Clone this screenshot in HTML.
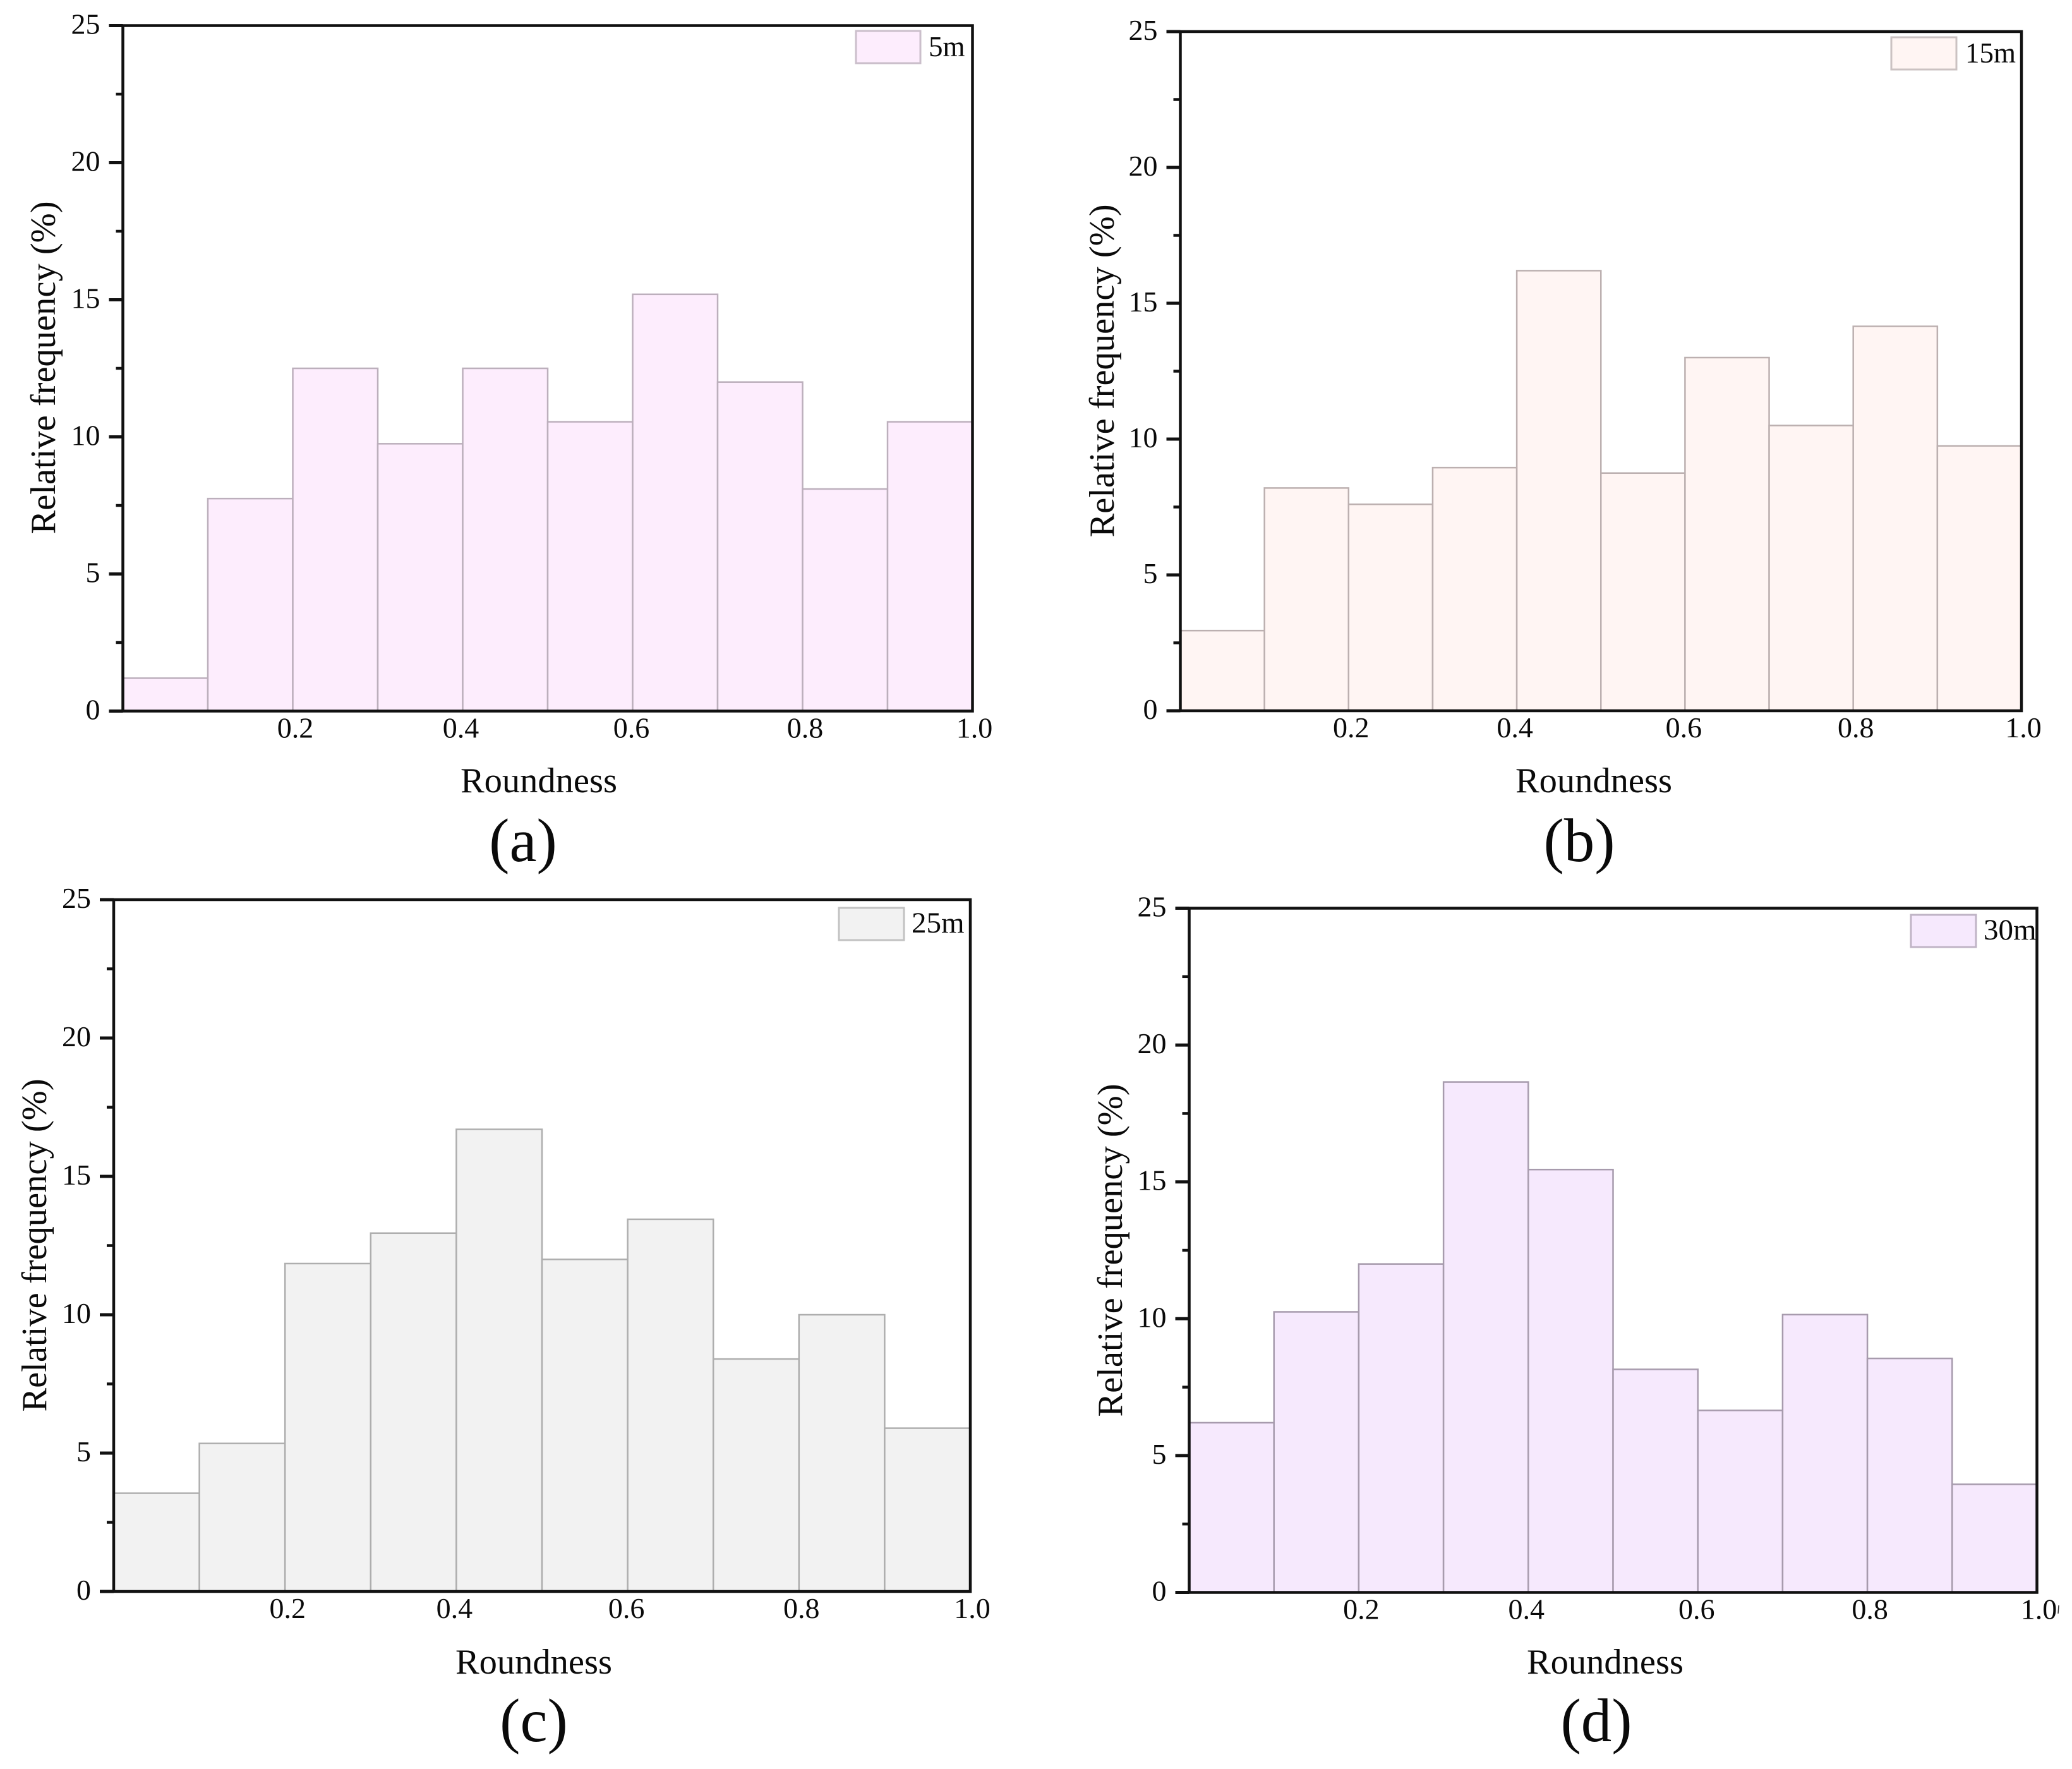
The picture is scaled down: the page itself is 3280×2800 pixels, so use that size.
<!DOCTYPE html>
<html lang="en">
<head>
<meta charset="utf-8">
<title>Roundness histograms</title>
<style>
  html, body { margin: 0; padding: 0; background: #fff; }
  svg { display: block; }
  text { font-family: "Liberation Serif", "Times New Roman", serif; fill: #0a0a0a; }
</style>
</head>
<body>
<svg id="figure" xmlns="http://www.w3.org/2000/svg" width="3280" height="2800" viewBox="0 0 3280 2800">
  <rect x="0" y="0" width="3280" height="2800" fill="#ffffff"/>
</svg>
<script>
// ---- chart data ----
const binEdges = [0, 0.1, 0.2, 0.3, 0.4, 0.5, 0.6, 0.7, 0.8, 0.9, 1.0];
const xTickValues = [0.2, 0.4, 0.6, 0.8, 1.0];
const xTickLabels = ["0.2", "0.4", "0.6", "0.8", "1.0"];
const yTickValues = [0, 5, 10, 15, 20, 25];
const yTickLabels = ["0", "5", "10", "15", "20", "25"];
const yMinorValues = [2.5, 7.5, 12.5, 17.5, 22.5];
const values5m  = [1.2, 7.75, 12.5, 9.75, 12.5, 10.55, 15.2, 12.0, 8.1, 10.55];
const values15m = [2.95, 8.2, 7.6, 8.95, 16.2, 8.75, 13.0, 10.5, 14.15, 9.75];
const values25m = [3.55, 5.35, 11.85, 12.95, 16.7, 12.0, 13.45, 8.4, 10.0, 5.9];
const values30m = [6.2, 10.25, 12.0, 18.65, 15.45, 8.15, 6.65, 10.15, 8.55, 3.95];
const seriesLabels = ["5m", "15m", "25m", "30m"];
const captionLabels = ["(a)", "(b)", "(c)", "(d)"];
const xTitle = "Roundness";
const yTitle = "Relative frequency (%)";

// ---- layout (pixels, separate from the data) ----
const labelShift = [4, -3, -2, 4, 3];
const panelLayouts = [
  { id: "a", left: 194.5, right: 1539.5, top: 40.5, bottom: 1125.5, fill: "#fdedfd", edge: "#bcafbc", swatchEdge: "#cbbfcb", swatch: [1355, 49, 102, 51], legendX: 1470, legendY: 89, legendSize: 45, yTitleX: 87, yTitleY: 582, xTitleX: 853, xTitleY: 1254, capX: 828, capY: 1363 },
  { id: "b", left: 1868.5, right: 3200, top: 50, bottom: 1125, fill: "#fff5f3", edge: "#bcb0b0", swatchEdge: "#cbc2c2", swatch: [2994, 59, 103, 51], legendX: 3111, legendY: 99, legendSize: 45, yTitleX: 1763, yTitleY: 587, xTitleX: 2523, xTitleY: 1254, capX: 2500, capY: 1363 },
  { id: "c", left: 180, right: 1536, top: 1424, bottom: 2519, fill: "#f2f2f2", edge: "#aeaeae", swatchEdge: "#c2c2c2", swatch: [1328, 1437, 103, 51], legendX: 1443, legendY: 1476, legendSize: 47, yTitleX: 73, yTitleY: 1971, xTitleX: 845, xTitleY: 2649, capX: 845, capY: 2756 },
  { id: "d", left: 1882.5, right: 3224.5, top: 1437.5, bottom: 2520.5, fill: "#f6e9fd", edge: "#a79bad", swatchEdge: "#c0b4c6", swatch: [3025, 1448, 103, 51], legendX: 3140, legendY: 1487, legendSize: 47, yTitleX: 1776, yTitleY: 1979, xTitleX: 2541, xTitleY: 2649, capX: 2527, capY: 2756 }
];
const seriesValues = [values5m, values15m, values25m, values30m];

const SVG_NS = "http://www.w3.org/2000/svg";
const figure = document.getElementById("figure");

function makeEl(parent, tag, attrs, text) {
  const el = document.createElementNS(SVG_NS, tag);
  Object.keys(attrs).forEach(function (k) { el.setAttribute(k, attrs[k]); });
  if (text !== undefined) el.textContent = text;
  parent.appendChild(el);
  return el;
}

function xScale(p, v) { return p.left + (v - 0) / (1 - 0) * (p.right - p.left); }
function yScale(p, v) { return p.bottom - (v - 0) / (25 - 0) * (p.bottom - p.top); }

panelLayouts.forEach(function (p, idx) {
  const group = makeEl(figure, "g", {});
  
  

  // bars
  seriesValues[idx].forEach(function (val, i) {
    const x0 = xScale(p, binEdges[i]);
    const x1 = xScale(p, binEdges[i + 1]);
    const y = yScale(p, val);
    const bar = makeEl(group, "rect", { x: x0, y: y, width: x1 - x0, height: p.bottom - y, fill: p.fill, stroke: p.edge, "stroke-width": 2.5 });
    
    
  });

  // frame
  const frame = makeEl(group, "rect", { x: p.left, y: p.top, width: p.right - p.left, height: p.bottom - p.top, fill: "none", stroke: "#111111", "stroke-width": 4.5 });
  
  

  // major y ticks and labels
  yTickValues.forEach(function (v, i) {
    const y = yScale(p, v);
    const tick = makeEl(group, "line", { x1: p.left - 22, x2: p.left, y1: y, y2: y, stroke: "#111111", "stroke-width": 5 });
    
    
    const label = makeEl(group, "text", { x: p.left - 36, y: y + 13, "text-anchor": "end", "font-size": 46 }, yTickLabels[i]);
    
    
  });

  // minor y ticks
  yMinorValues.forEach(function (v) {
    const y = yScale(p, v);
    const tick = makeEl(group, "line", { x1: p.left - 11, x2: p.left, y1: y, y2: y, stroke: "#111111", "stroke-width": 4.5 });
    
    
  });

  // x tick labels
  xTickValues.forEach(function (v, i) {
    const label = makeEl(group, "text", { x: xScale(p, v) + labelShift[i], y: p.bottom + 42, "text-anchor": "middle", "font-size": 46 }, xTickLabels[i]);
    
    
  });

  // axis titles
  const yt = makeEl(group, "text", { x: p.yTitleX, y: p.yTitleY, "text-anchor": "middle", "font-size": 56.5, transform: "rotate(-90 " + p.yTitleX + " " + p.yTitleY + ")" }, yTitle);
  
  
  const xt = makeEl(group, "text", { x: p.xTitleX, y: p.xTitleY, "text-anchor": "middle", "font-size": 56.5 }, xTitle);
  
  

  // legend
  const swatch = makeEl(group, "rect", { x: p.swatch[0], y: p.swatch[1], width: p.swatch[2], height: p.swatch[3], fill: p.fill, stroke: p.swatchEdge, "stroke-width": 3 });
  
  
  const legendText = makeEl(group, "text", { x: p.legendX, y: p.legendY, "font-size": p.legendSize }, seriesLabels[idx]);
  
  

  // caption
  const cap = makeEl(group, "text", { x: p.capX, y: p.capY, "text-anchor": "middle", "font-size": 97 }, captionLabels[idx]);
  
  
});

// small crop artefact next to the last label of panel d
const stray = makeEl(figure, "line", { x1: 3259, x2: 3258, y1: 2541, y2: 2554, stroke: "#333", "stroke-width": 1.5 });


</script>
</body>
</html>
